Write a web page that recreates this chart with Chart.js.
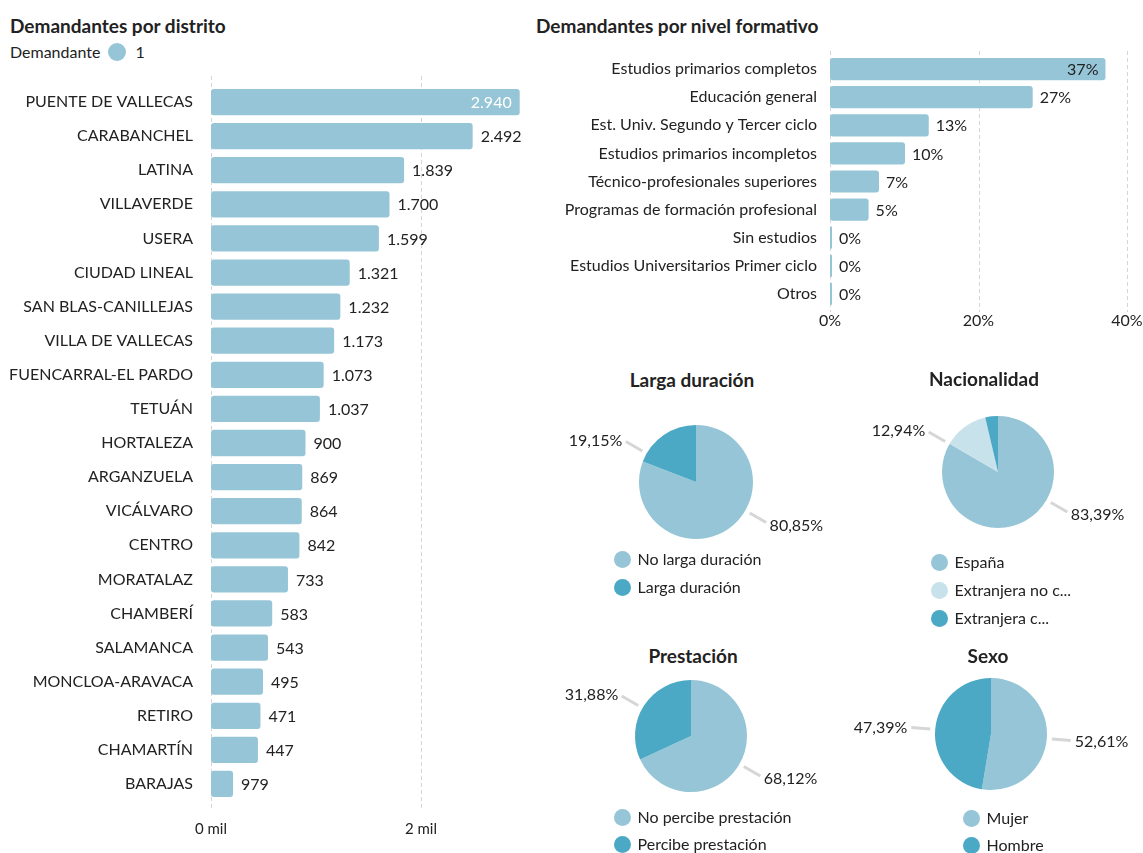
<!DOCTYPE html>
<html>
<head>
<meta charset="utf-8">
<script src="https://cdn.jsdelivr.net/npm/chart.js@4.4.1/dist/chart.umd.min.js"></script>
<style>
  html,body{margin:0;padding:0;background:#fff;}
  body{width:1143px;height:853px;overflow:hidden;position:relative;font-family:Lato,"Noto Sans",sans-serif;color:#222;}
  .abs{position:absolute;}
  .title{font-weight:bold;font-size:19px;white-space:nowrap;line-height:22px;}
  .ctitle{font-weight:bold;font-size:19px;white-space:nowrap;line-height:22px;width:300px;text-align:center;}
  .leg{font-size:16px;white-space:nowrap;line-height:18px;display:flex;align-items:center;}
  .dot{display:inline-block;width:17px;height:17px;border-radius:50%;margin-right:7px;}
  canvas{position:absolute;}
</style>
</head>
<body>
<div class="abs title" style="left:10px;top:15px;">Demandantes por distrito</div>
<div class="abs leg" style="left:10px;top:43px;">Demandante<span class="dot" style="background:#95c5d6;margin-left:8px;margin-right:9px;width:18px;height:18px;"></span>1</div>
<div class="abs title" style="left:536px;top:15px;">Demandantes por nivel formativo</div>

<canvas id="cDist"></canvas>
<canvas id="cLevel"></canvas>
<div id="pies"></div>

<script>
// ---------- DATA ----------
const districts = ['PUENTE DE VALLECAS','CARABANCHEL','LATINA','VILLAVERDE','USERA','CIUDAD LINEAL','SAN BLAS-CANILLEJAS','VILLA DE VALLECAS','FUENCARRAL-EL PARDO','TETUÁN','HORTALEZA','ARGANZUELA','VICÁLVARO','CENTRO','MORATALAZ','CHAMBERÍ','SALAMANCA','MONCLOA-ARAVACA','RETIRO','CHAMARTÍN','BARAJAS'];
const districtBarValues = [2940,2492,1839,1700,1599,1321,1232,1173,1073,1037,900,869,864,842,733,583,543,495,471,447,210];
const districtShownValues = [2940,2492,1839,1700,1599,1321,1232,1173,1073,1037,900,869,864,842,733,583,543,495,471,447,979];
const districtTicks = [0, 2000];

const levels = ['Estudios primarios completos','Educación general','Est. Univ. Segundo y Tercer ciclo','Estudios primarios incompletos','Técnico-profesionales superiores','Programas de formación profesional','Sin estudios','Estudios Universitarios Primer ciclo','Otros'];
const levelPct = [37.1,27.3,13.3,10.1,6.6,5.2,0,0,0];
const levelTicks = [0, 20, 40];

const durCats = ['No larga duración','Larga duración'];
const durVals = [80.85,19.15];
const natCats = ['España','Extranjera no c...','Extranjera c...'];
const natVals = [83.39,12.94,3.67];
const presCats = ['No percibe prestación','Percibe prestación'];
const presVals = [68.12,31.88];
const sexCats = ['Mujer','Hombre'];
const sexVals = [52.61,47.39];

// ---------- STYLE ----------
const C_LIGHT = '#95c5d6', C_DARK = '#4ba9c5', C_PALE = '#c8e2ec';
const FONT = 'Lato, "Noto Sans", sans-serif';
const TXT = '#222';
Chart.defaults.font.family = FONT;
Chart.defaults.color = TXT;
Chart.defaults.animation = false;

function thousands(v){ return String(v).replace(/\B(?=(\d{3})+(?!\d))/g,'.'); }

function placeCanvas(id, left, top, w, h){
  const c = document.getElementById(id);
  c.width = w; c.height = h;
  c.style.left = left+'px'; c.style.top = top+'px';
  c.style.width = w+'px'; c.style.height = h+'px';
  return c;
}

function gridPlugin(ext){
  return { id:'dashGrid', beforeDatasetsDraw(chart){
    const x = chart.scales.x, a = chart.chartArea, ctx = chart.ctx;
    ctx.save(); ctx.strokeStyle = '#d5d5d5'; ctx.lineWidth = 1; ctx.setLineDash([4,3]);
    x.ticks.forEach(t => {
      const px = Math.round(x.getPixelForValue(t.value)) + 0.5;
      ctx.beginPath(); ctx.moveTo(px, a.top - ext); ctx.lineTo(px, a.bottom + ext); ctx.stroke();
    });
    ctx.restore();
  }};
}

function valuePlugin(textFor, font, insideColor, gap){
  return { id:'barValues', afterDatasetsDraw(chart){
    const ctx = chart.ctx, meta = chart.getDatasetMeta(0);
    ctx.save(); ctx.font = font; ctx.textBaseline = 'middle';
    meta.data.forEach((bar, i) => {
      const txt = textFor(i); const w = ctx.measureText(txt).width;
      if (bar.x + gap + w > chart.chartArea.right) {
        ctx.fillStyle = insideColor; ctx.textAlign = 'right';
        ctx.fillText(txt, bar.x - gap, bar.y + 1);
      } else {
        ctx.fillStyle = TXT; ctx.textAlign = 'left';
        ctx.fillText(txt, bar.x + gap, bar.y + 1);
      }
    });
    ctx.restore();
  }};
}

function noPadX(h){ return function(s){ s.height = h; s.paddingLeft = 0; s.paddingRight = 0; }; }
function noPadY(w){ return function(s){ s.width = w; s.paddingTop = 0; s.paddingBottom = 0; }; }

// ---------- DISTRICT BARS ----------
placeCanvas('cDist', 0, 70, 540, 775);
new Chart(document.getElementById('cDist'), {
  type:'bar',
  data:{ labels: districts, datasets:[{ data: districtBarValues, backgroundColor: C_LIGHT, borderRadius: 3, borderSkipped: false, barPercentage: 0.77, categoryPercentage: 1 }]},
  options:{
    indexAxis:'y', responsive:false, events:[],
    layout:{ padding:{ top:15, right:14, bottom:0, left:0 }},
    plugins:{ legend:{display:false}, tooltip:{enabled:false} },
    scales:{
      x:{ min:0, max:3000, grid:{display:false, drawTicks:false}, border:{display:false},
          afterBuildTicks(s){ s.ticks = districtTicks.map(v => ({value:v})); },
          afterFit: noPadX(44),
          ticks:{ padding:19, font:{size:15}, color:TXT, callback:(v)=> (v/1000)+' mil' } },
      y:{ grid:{display:false, drawTicks:false}, border:{display:false},
          afterFit: noPadY(211),
          ticks:{ padding:18, font:{size:16}, color:TXT, autoSkip:false } }
    }
  },
  plugins:[ gridPlugin(9), valuePlugin(i => thousands(districtShownValues[i]), '16px '+FONT, '#fff', 8) ]
});

// ---------- LEVEL BARS ----------
placeCanvas('cLevel', 540, 40, 603, 300);
new Chart(document.getElementById('cLevel'), {
  type:'bar',
  data:{ labels: levels, datasets:[{ data: levelPct, backgroundColor: C_LIGHT, borderRadius: 3, borderSkipped: false, barPercentage: 0.79, categoryPercentage: 1, minBarLength: 2 }]},
  options:{
    indexAxis:'y', responsive:false, events:[],
    layout:{ padding:{ top:15, right:16, bottom:0, left:0 }},
    plugins:{ legend:{display:false}, tooltip:{enabled:false} },
    scales:{
      x:{ min:0, max:40, grid:{display:false, drawTicks:false}, border:{display:false},
          afterBuildTicks(s){ s.ticks = levelTicks.map(v => ({value:v})); },
          afterFit: noPadX(32),
          ticks:{ padding:3, font:{size:16}, color:TXT, callback:(v)=> v+'%' } },
      y:{ grid:{display:false, drawTicks:false}, border:{display:false},
          afterFit: noPadY(290),
          ticks:{ padding:13, font:{size:16}, color:TXT, autoSkip:false } }
    }
  },
  plugins:[ gridPlugin(4), valuePlugin(i => Math.round(levelPct[i])+'%', '16px '+FONT, TXT, 7) ]
});

// ---------- PIES ----------
function pctText(v){ return v.toFixed(2).replace('.',',')+'%'; }
const MAX_TILT = Math.PI/6;
const pieLabelPlugin = { id:'pieLabels', afterDatasetsDraw(chart){
  const ctx = chart.ctx, meta = chart.getDatasetMeta(0), vals = chart.data.datasets[0].data;
  const total = vals.reduce((a,b)=>a+b,0);
  ctx.save(); ctx.font = '16px '+FONT; ctx.fillStyle = TXT; ctx.textBaseline = 'middle';
  meta.data.forEach((arc, i) => {
    if (vals[i]/total < 0.05) return;
    const mid = (arc.startAngle + arc.endAngle)/2, r = arc.outerRadius;
    const right = Math.cos(mid) >= 0;
    // keep label direction within MAX_TILT of the horizontal
    let tilt = Math.atan2(Math.sin(mid), Math.abs(Math.cos(mid)));
    tilt = Math.max(-MAX_TILT, Math.min(MAX_TILT, tilt));
    const c = (right ? 1 : -1) * Math.cos(tilt), s = Math.sin(tilt);
    ctx.strokeStyle = '#d6d6d6'; ctx.lineWidth = 3;
    ctx.beginPath(); ctx.moveTo(arc.x + c*(r+5), arc.y + s*(r+5)); ctx.lineTo(arc.x + c*(r+24), arc.y + s*(r+24)); ctx.stroke();
    ctx.textAlign = right ? 'left' : 'right';
    ctx.fillText(pctText(vals[i]), arc.x + c*(r+28), arc.y + s*(r+28) + 1);
  });
  ctx.restore();
}};

const piesDiv = document.getElementById('pies');
function makePie(key, title, titleCx, titleY, cx, cy, r, cats, vals, colors, legX, legY, legStep){
  const t = document.createElement('div');
  t.className = 'abs ctitle'; t.textContent = title;
  t.style.left = (titleCx-150)+'px'; t.style.top = (titleY-11)+'px';
  piesDiv.appendChild(t);
  const cv = document.createElement('canvas'); cv.id = 'pie_'+key; piesDiv.appendChild(cv);
  const W = 320, H = 2*r + 80;
  placeCanvas(cv.id, cx - W/2, cy - r - 40, W, H);
  new Chart(cv, {
    type:'pie',
    data:{ labels: cats, datasets:[{ data: vals, backgroundColor: colors, borderWidth: 0, hoverOffset: 0, offset: 0 }]},
    options:{ responsive:false, events:[], radius: r,
      layout:{ padding:{ top:40, bottom:40, left:W/2 - r, right:W/2 - r }},
      plugins:{ legend:{display:false}, tooltip:{enabled:false} } },
    plugins:[pieLabelPlugin]
  });
  cats.forEach((name, i) => {
    const d = document.createElement('div');
    d.className = 'abs leg';
    d.style.left = (legX - 8.5)+'px'; d.style.top = (legY + i*legStep - 9)+'px';
    d.innerHTML = '<span class="dot" style="background:'+colors[i]+'"></span>';
    d.appendChild(document.createTextNode(name));
    piesDiv.appendChild(d);
  });
}
makePie('dur', 'Larga duración', 692, 380, 696, 482, 57, durCats, durVals, [C_LIGHT, C_DARK], 622, 559, 28);
makePie('nat', 'Nacionalidad', 984, 379, 998, 472, 56, natCats, natVals, [C_LIGHT, C_PALE, C_DARK], 939, 562, 28);
makePie('pres', 'Prestación', 693, 656, 691, 736, 56, presCats, presVals, [C_LIGHT, C_DARK], 622, 817, 27);
makePie('sex', 'Sexo', 988, 656, 991, 734, 56, sexCats, sexVals, [C_LIGHT, C_DARK], 971, 818, 27);
</script>
</body>
</html>
